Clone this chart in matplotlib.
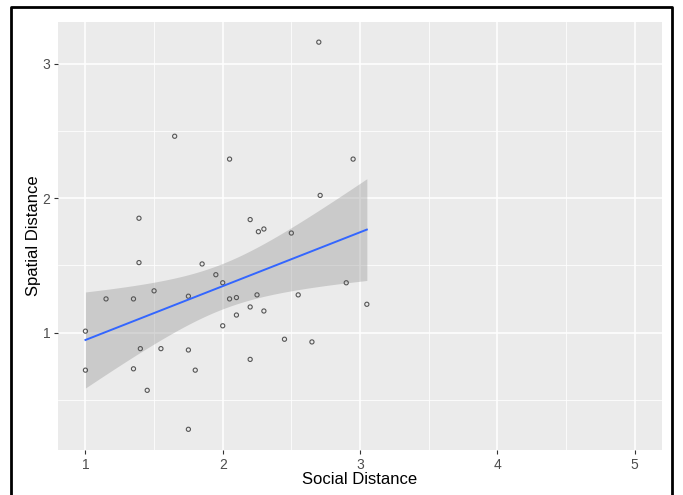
import matplotlib.pyplot as plt
import numpy as np
from matplotlib.lines import Line2D

plt.rcParams["font.family"] = ["Liberation Sans", "DejaVu Sans"]

# Social distance (x) and spatial distance (y) for each participant
social = [2.70, 1.65, 2.05, 2.95, 2.71, 1.39, 2.20, 2.30, 2.26, 2.50,
          1.39, 1.85, 1.95, 2.00, 1.50, 1.15, 1.35, 1.75, 2.05, 2.10,
          2.25, 2.55, 2.90, 3.05, 1.00, 2.20, 2.30, 2.10, 2.00, 1.40,
          1.55, 1.75, 1.00, 1.35, 1.80, 1.45, 2.45, 2.65, 2.20, 1.75]
spatial = [3.16, 2.46, 2.29, 2.29, 2.02, 1.85, 1.84, 1.77, 1.75, 1.74,
           1.52, 1.51, 1.43, 1.37, 1.31, 1.25, 1.25, 1.27, 1.25, 1.26,
           1.28, 1.28, 1.37, 1.21, 1.01, 1.19, 1.16, 1.13, 1.05, 0.88,
           0.88, 0.87, 0.72, 0.73, 0.72, 0.57, 0.95, 0.93, 0.80, 0.28]

x_ticks = [1, 2, 3, 4, 5]
y_ticks = [1, 2, 3]

x = np.array(social)
y = np.array(spatial)

# linear fit with 95% confidence band (like geom_smooth(method = "lm"))
n = len(x)
slope, intercept = np.polyfit(x, y, 1)
resid = y - (slope * x + intercept)
s = np.sqrt(np.sum(resid ** 2) / (n - 2))
xs = np.linspace(x.min(), x.max(), 80)
ys = slope * xs + intercept
se = s * np.sqrt(1 / n + (xs - x.mean()) ** 2 / np.sum((x - x.mean()) ** 2))
t = 2.024  # t(0.975, df=38)

fig = plt.figure(figsize=(6.83, 4.95), dpi=100)
ax = fig.add_axes([0.0849, 0.0909, 0.8843, 0.8647])
ax.set_facecolor("#EBEBEB")

ax.set_xlim(0.8, 5.2)
ax.set_ylim(0.126, 3.31)

ax.set_xticks(x_ticks)
ax.set_yticks(y_ticks)
ax.set_xticks([1.5, 2.5, 3.5, 4.5], minor=True)
ax.set_yticks([0.5, 1.5, 2.5], minor=True)
ax.grid(which="major", color="white", linewidth=1.1)
ax.grid(which="minor", color="white", linewidth=0.55)
ax.set_axisbelow(True)
for sp in ax.spines.values():
    sp.set_visible(False)
ax.tick_params(which="major", length=3, width=0.8, color="#333333",
               labelcolor="#4D4D4D", labelsize=10, pad=2.5)
ax.tick_params(which="minor", length=0)

ax.fill_between(xs, ys - t * se, ys + t * se, color="#999999", alpha=0.4,
                linewidth=0, zorder=2)
ax.scatter(x, y, s=9, facecolors="none", edgecolors="#555555",
           linewidths=0.8, zorder=3)
ax.plot(xs, ys, color="#3366FF", linewidth=1.4, zorder=4)

ax.set_xlabel("Social Distance", fontsize=12, labelpad=0)
ax.set_ylabel("Spatial Distance", fontsize=12, labelpad=1)

# black frame around the figure (open at the bottom)
W, H = 683, 495
frame_x = [11 / W, 11 / W, 672 / W, 672 / W]
frame_y = [0, 1 - 7 / H, 1 - 7 / H, 0]
fig.add_artist(Line2D(frame_x, frame_y, color="black", linewidth=2,
                      transform=fig.transFigure))

fig.savefig("out.png", dpi=100)
